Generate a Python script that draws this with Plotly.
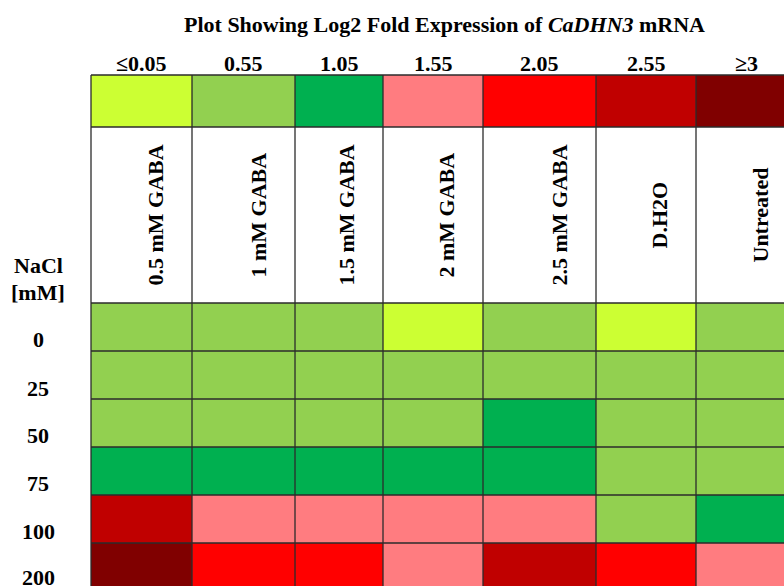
import plotly.graph_objects as go

# Treatments (columns) and NaCl concentrations (rows)
treatments = ["0.5 mM GABA", "1 mM GABA", "1.5 mM GABA", "2 mM GABA",
              "2.5 mM GABA", "D.H2O", "Untreated"]
nacl_levels = ["0", "25", "50", "75", "100", "200"]

# Colour key: log2 fold-change levels and their labels
key_levels = [0.05, 0.55, 1.05, 1.55, 2.05, 2.55, 3.0]
key_labels = ["≤0.05", "0.55", "1.05", "1.55", "2.05", "2.55", "≥3"]
key_colors = ["#CCFF33", "#92D050", "#00B050", "#FF7C80",
              "#FF0000", "#C00000", "#800000"]

# Log2 fold expression of CaDHN3 mRNA per NaCl level (rows) x treatment (cols)
log2_fc = [
    [0.55, 0.55, 0.55, 0.05, 0.55, 0.05, 0.55],   # 0 mM
    [0.55, 0.55, 0.55, 0.55, 0.55, 0.55, 0.55],   # 25 mM
    [0.55, 0.55, 0.55, 0.55, 1.05, 0.55, 0.55],   # 50 mM
    [1.05, 1.05, 1.05, 1.05, 1.05, 0.55, 0.55],   # 75 mM
    [2.55, 1.55, 1.55, 1.55, 1.55, 0.55, 1.05],   # 100 mM
    [3.00, 2.05, 2.05, 1.55, 2.55, 2.05, 1.55],   # 200 mM
]

# ---- table geometry (page pixels) ----
W, H = 784, 586
col_edges = [91, 192, 295, 383, 483, 596, 696, 797]
key_row = [75, 127]
header_row = [127, 303]
data_row_edges = [303, 351, 399, 447, 495, 543, 591]
label_x = 38
row_label_y = [339.5, 388, 435, 483, 531, 577]
header_label_offset = 37.5
FONT = "Liberation Serif, Times New Roman, serif"
LINE = "#2b2b2b"

# Stepwise colour scale: each key level owns a band between midpoints
zmin, zmax = -0.2, 3.25
bounds = [zmin] + [(a + b) / 2 for a, b in zip(key_levels[:-1], key_levels[1:])] + [zmax]
colorscale = []
for i, c in enumerate(key_colors):
    colorscale.append([(bounds[i] - zmin) / (zmax - zmin), c])
    colorscale.append([(bounds[i + 1] - zmin) / (zmax - zmin), c])

fig = go.Figure()

# Colour key row
fig.add_trace(go.Heatmap(
    z=[key_levels], x=col_edges, y=key_row,
    colorscale=colorscale, zmin=zmin, zmax=zmax,
    showscale=False, hoverinfo="skip",
))

# Expression cells
fig.add_trace(go.Heatmap(
    z=log2_fc, x=col_edges, y=data_row_edges,
    colorscale=colorscale, zmin=zmin, zmax=zmax,
    showscale=False,
    customdata=[[t for t in treatments] for _ in nacl_levels],
    hovertemplate="NaCl %{y}<br>%{customdata}<br>log2 FC %{z}<extra></extra>",
))

# Cell borders
shapes = []
for x in col_edges[:-1]:
    shapes.append(dict(type="line", xref="x", yref="y", x0=x, x1=x,
                       y0=key_row[0], y1=data_row_edges[-1],
                       line=dict(color=LINE, width=1.3)))
for y in [key_row[0], key_row[1]] + data_row_edges[:-1]:
    shapes.append(dict(type="line", xref="x", yref="y", x0=col_edges[0],
                       x1=col_edges[-1], y0=y, y1=y,
                       line=dict(color=LINE, width=1.3)))

annotations = []
txt = dict(family=FONT, size=22, color="black")

# Title
annotations.append(dict(
    x=444, y=24, xref="x", yref="y", showarrow=False,
    text="<b>Plot Showing Log2 Fold Expression of <i>CaDHN3</i> mRNA</b>",
    font=txt, xanchor="center", yanchor="middle",
))

# Key labels above the colour key
for i, lab in enumerate(key_labels):
    cx = (col_edges[i] + col_edges[i + 1]) / 2
    annotations.append(dict(
        x=cx, y=63, xref="x", yref="y", showarrow=False,
        text=f"<b>{lab}</b>", font=txt, xanchor="center", yanchor="middle",
    ))

# Rotated treatment headers
hy = (header_row[0] + header_row[1]) / 2
for i, t in enumerate(treatments):
    annotations.append(dict(
        x=col_edges[i + 1] - header_label_offset, y=hy, xref="x", yref="y",
        showarrow=False, text=f"<b>{t}</b>", textangle=-90, font=txt,
        xanchor="center", yanchor="middle",
    ))

# Row axis title and NaCl levels
annotations.append(dict(x=label_x, y=265, xref="x", yref="y", showarrow=False,
                        text="<b>NaCl</b>", font=txt))
annotations.append(dict(x=label_x, y=292, xref="x", yref="y", showarrow=False,
                        text="<b>[mM]</b>", font=txt))
for lab, y in zip(nacl_levels, row_label_y):
    annotations.append(dict(x=label_x, y=y, xref="x", yref="y", showarrow=False,
                            text=f"<b>{lab}</b>", font=txt))

fig.update_layout(
    width=W, height=H,
    margin=dict(l=0, r=0, t=0, b=0),
    paper_bgcolor="white", plot_bgcolor="white",
    xaxis=dict(range=[0, W], visible=False, fixedrange=True),
    yaxis=dict(range=[H, 0], visible=False, fixedrange=True),
    shapes=shapes, annotations=annotations,
    showlegend=False,
)

fig.write_html("out.html")
